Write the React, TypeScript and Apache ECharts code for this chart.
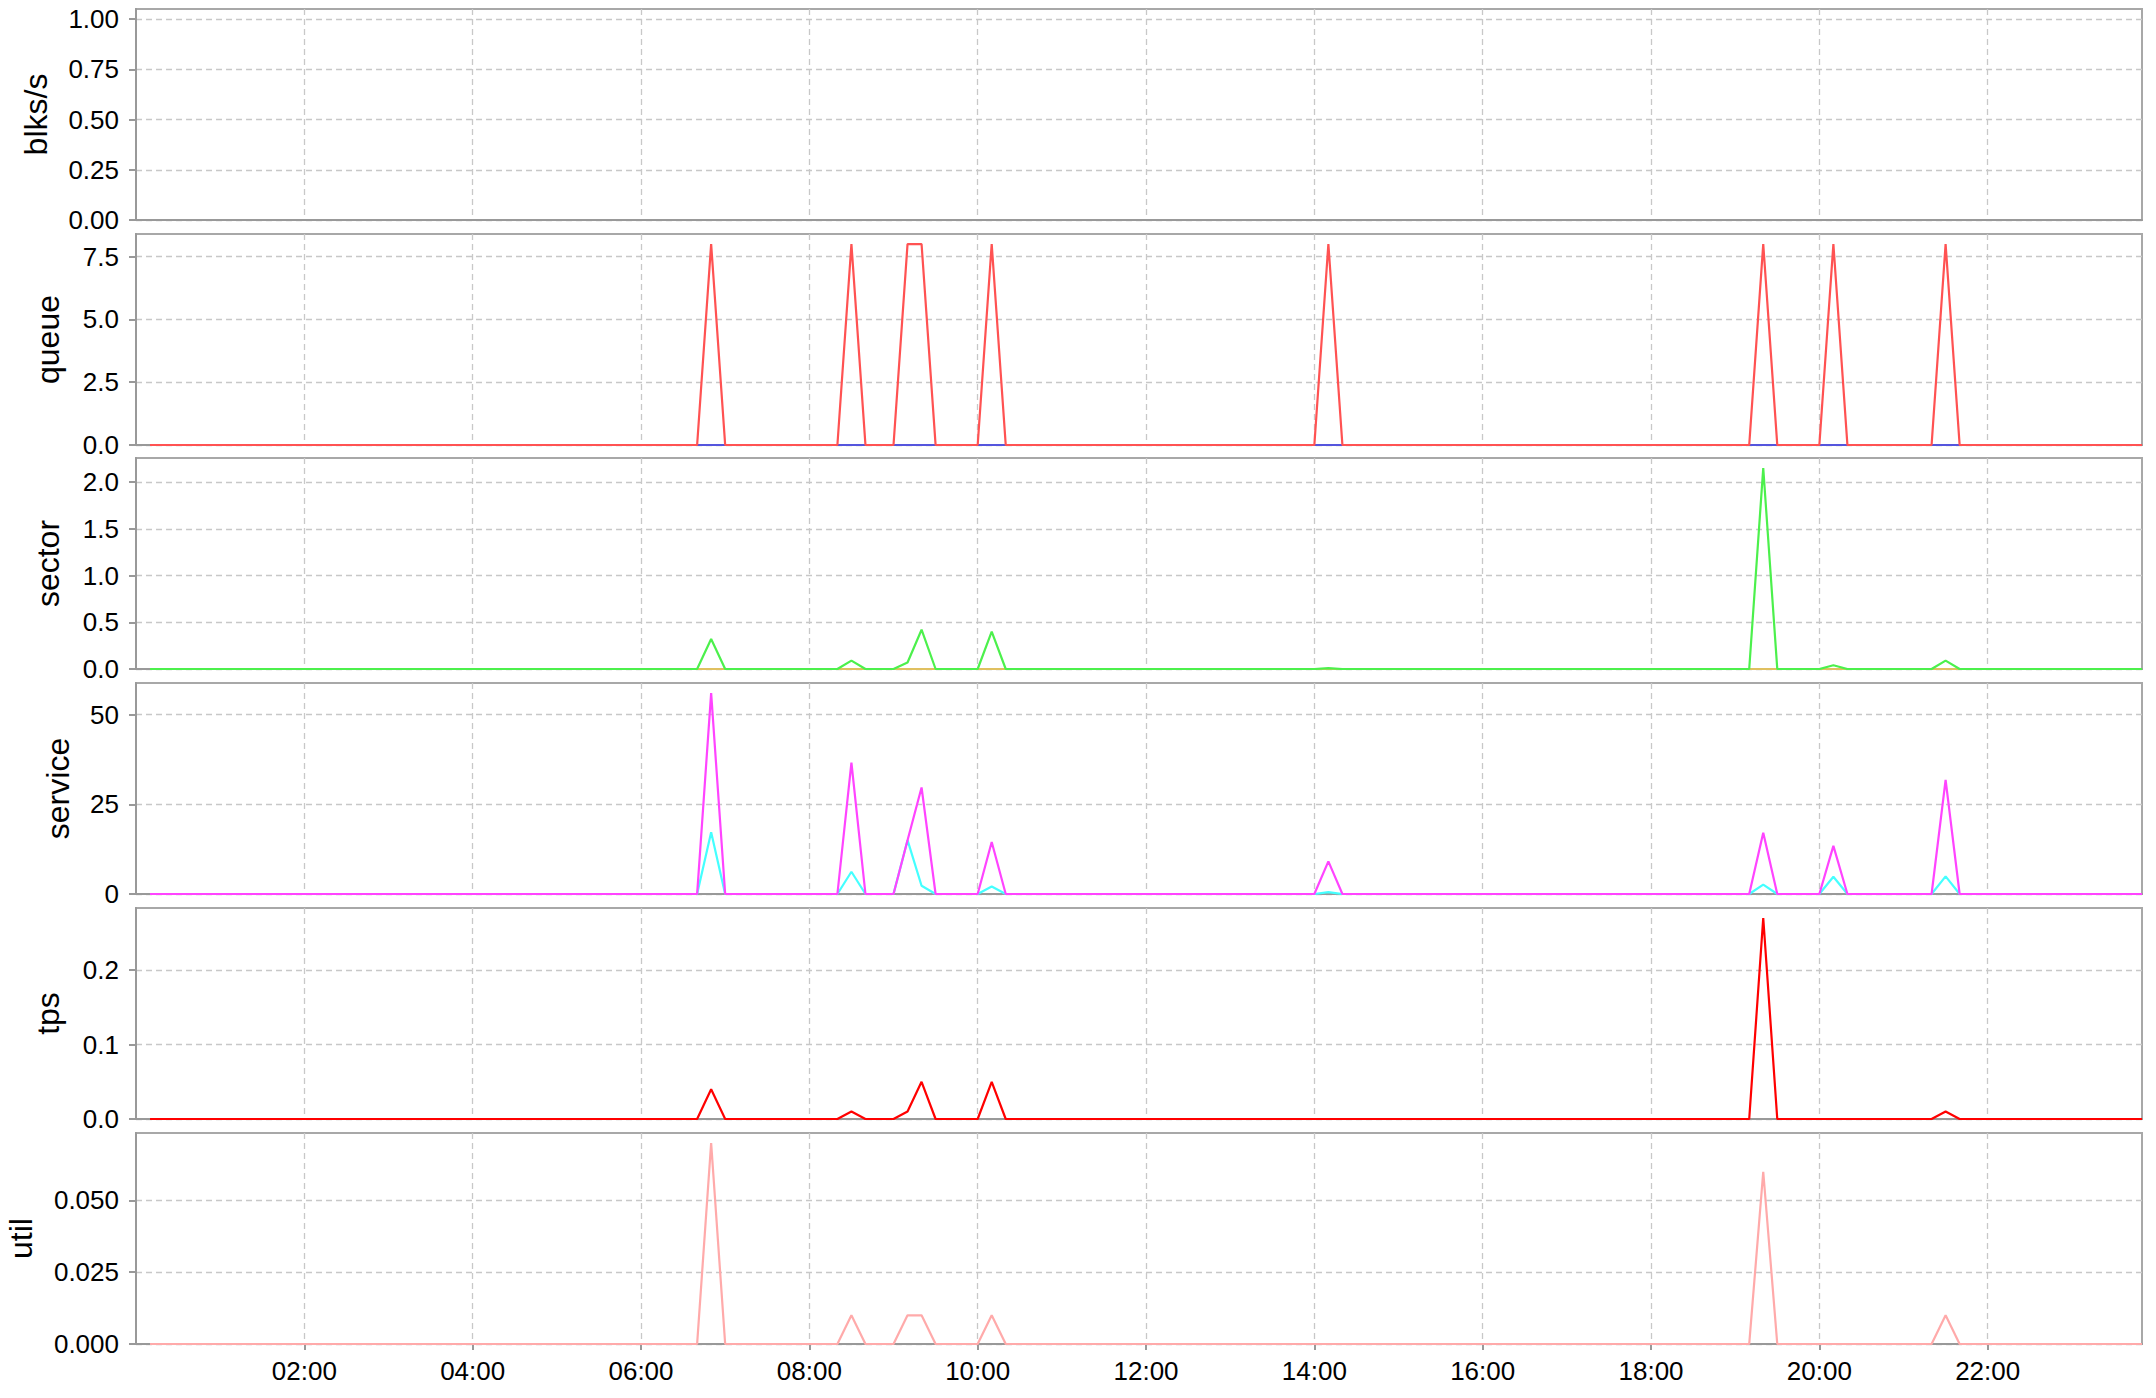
import React, { useEffect, useRef } from 'react';
import * as echarts from 'echarts';

// sampling: one point every 10 minutes
const FIRST_SAMPLE = '00:10';
const LAST_SAMPLE = '23:50';
const SAMPLE_STEP_MIN = 10;
const X_MAX = '23:50';
const xTickLabels = ['02:00', '04:00', '06:00', '08:00', '10:00', '12:00', '14:00', '16:00', '18:00', '20:00', '22:00'];

// non-zero samples (all other samples are 0)
const queueTimes = ['06:50', '08:30', '09:10', '09:20', '10:10', '14:10', '19:20', '20:10', '21:30'];
const queueValues = [8, 8, 8, 8, 8, 8, 8, 8, 8];
const queueBlueTimes: string[] = [];
const queueBlueValues: number[] = [];

const sectorTimes = ['06:50', '08:30', '09:10', '09:20', '10:10', '14:10', '19:20', '20:10', '21:30'];
const sectorValues = [0.32, 0.09, 0.07, 0.42, 0.4, 0.01, 2.15, 0.04, 0.09];
const sectorYellowTimes: string[] = [];
const sectorYellowValues: number[] = [];

const serviceTimes = ['06:50', '08:30', '09:10', '09:20', '10:10', '14:10', '19:20', '20:10', '21:30'];
const awaitValues = [56, 36.6, 15, 29.7, 14.5, 9.1, 17.1, 13.4, 31.8];
const svctmValues = [17.2, 6.2, 15, 2.3, 2.1, 0.5, 2.6, 4.8, 4.9];

const tpsTimes = ['06:50', '08:30', '09:10', '09:20', '10:10', '19:20', '21:30'];
const tpsValues = [0.04, 0.01, 0.01, 0.05, 0.05, 0.27, 0.01];

const utilTimes = ['06:50', '08:30', '09:10', '09:20', '10:10', '19:20', '21:30'];
const utilValues = [0.07, 0.01, 0.01, 0.01, 0.01, 0.06, 0.01];

const panelNames = ['blks/s', 'queue', 'sector', 'service', 'tps', 'util'];
const panelMax = [1.05, 8.4, 2.2575, 58.8, 0.2835, 0.0735];
const panelInterval = [0.25, 2.5, 0.5, 25, 0.1, 0.025];
const panelDecimals = [2, 1, 1, 0, 1, 3];

const toMin = (t: string) => {
  const [h, m] = t.split(':').map(Number);
  return h * 60 + m;
};
const fmtTime = (v: number) => {
  const h = Math.floor(v / 60);
  const m = Math.round(v % 60);
  return `${String(h).padStart(2, '0')}:${String(m).padStart(2, '0')}`;
};

const sampleMinutes: number[] = [];
for (let m = toMin(FIRST_SAMPLE); m <= toMin(LAST_SAMPLE); m += SAMPLE_STEP_MIN) sampleMinutes.push(m);

const buildSeries = (times: string[], values: number[]) => {
  const map = new Map<number, number>();
  times.forEach((t, i) => map.set(toMin(t), values[i]));
  return sampleMinutes.map((m) => [m, map.has(m) ? (map.get(m) as number) : 0]);
};

const FONT = '"Liberation Sans", Arial, Helvetica, sans-serif';
const LEFT = 136;
const WIDTH = 2006;
const TOPS = [9, 234, 458, 683, 908, 1133];
const HEIGHT = 211;
const NAME_GAPS = [84, 72, 72, 62, 72, 99];

export default function App() {
  const ref = useRef<HTMLDivElement>(null);
  useEffect(() => {
    if (!ref.current) return;
    const chart = echarts.init(ref.current, undefined, { renderer: 'svg' });
    const n = panelNames.length;
    const xTickVals = xTickLabels.map(toMin);

    const grids = TOPS.map((top) => ({
      left: LEFT,
      top,
      width: WIDTH,
      height: HEIGHT,
      show: true,
      borderColor: '#a8a8a8',
      borderWidth: 2,
      backgroundColor: 'transparent',
      containLabel: false,
      outerBoundsMode: 'none',
    }));

    const gridLine = { show: true, lineStyle: { color: '#c8c8c8', type: [6, 4], width: 1.3 } };

    const xAxes = panelNames.map((_, i) => ({
      type: 'value',
      gridIndex: i,
      min: 0,
      max: toMin(X_MAX),
      interval: 120,
      axisLine: { show: true, onZero: false, lineStyle: { color: '#999999', width: 2 } },
      axisTick: { show: i === n - 1, length: 6, customValues: xTickVals, lineStyle: { color: '#999999', width: 2 } },
      axisLabel: {
        show: i === n - 1,
        customValues: xTickVals,
        formatter: (v: number) => (v > 0 && v % 120 === 0 ? fmtTime(v) : ''),
        fontSize: 26,
        color: '#000',
        fontFamily: FONT,
        margin: 14,
      },
      splitLine: gridLine,
    }));

    const yAxes = panelNames.map((name, i) => {
      const iv = panelInterval[i];
      const vals: number[] = [];
      for (let k = 0; k * iv <= panelMax[i] + 1e-9; k++) vals.push(+(k * iv).toFixed(6));
      return {
        type: 'value',
        gridIndex: i,
        min: 0,
        max: panelMax[i],
        interval: iv,
        name,
        nameLocation: 'middle',
        nameGap: NAME_GAPS[i],
        nameTextStyle: { fontSize: 32, color: '#000', fontFamily: FONT },
        axisLine: { show: true, onZero: false, lineStyle: { color: '#999999', width: 2 } },
        axisTick: { show: true, length: 7, customValues: vals, lineStyle: { color: '#999999', width: 2 } },
        axisLabel: {
          customValues: vals,
          formatter: (v: number) => {
            const r = v / iv;
            return Math.abs(r - Math.round(r)) < 1e-6 ? v.toFixed(panelDecimals[i]) : '';
          },
          fontSize: 26,
          color: '#000',
          fontFamily: FONT,
          margin: 17,
        },
        splitLine: gridLine,
      };
    });

    const line = (idx: number, color: string, data: number[][], z = 2) => ({
      type: 'line',
      xAxisIndex: idx,
      yAxisIndex: idx,
      data,
      symbol: 'none',
      showSymbol: false,
      silent: true,
      z,
      lineStyle: { color, width: 2.2 },
      itemStyle: { color },
    });

    const series = [
      line(1, '#5555dd', buildSeries(queueBlueTimes, queueBlueValues), 2),
      line(1, '#ff5252', buildSeries(queueTimes, queueValues), 3),
      line(2, '#e0c060', buildSeries(sectorYellowTimes, sectorYellowValues), 2),
      line(2, '#4cf04c', buildSeries(sectorTimes, sectorValues), 3),
      line(3, '#44ffff', buildSeries(serviceTimes, svctmValues), 2),
      line(3, '#ff44ff', buildSeries(serviceTimes, awaitValues), 3),
      line(4, '#ff0000', buildSeries(tpsTimes, tpsValues), 2),
      line(5, '#ffaaaa', buildSeries(utilTimes, utilValues), 2),
    ];

    chart.setOption({
      animation: false,
      backgroundColor: '#ffffff',
      textStyle: { fontFamily: FONT },
      grid: grids,
      xAxis: xAxes,
      yAxis: yAxes,
      series,
    } as any);
    return () => chart.dispose();
  }, []);

  return <div ref={ref} style={{ position: 'fixed', left: 0, top: 0, width: 2156, height: 1398, background: '#fff' }} />;
}
